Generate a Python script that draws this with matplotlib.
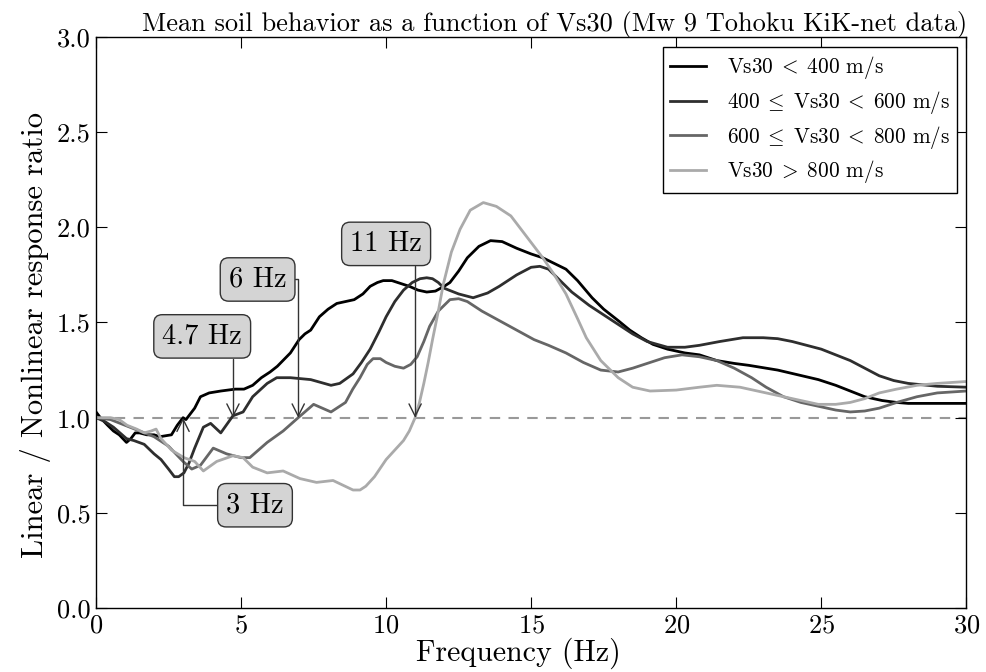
import matplotlib
matplotlib.use("Agg")
import matplotlib.pyplot as plt

plt.rcParams.update({
    "font.family": "serif",
    "font.serif": ["cmr10"],
    "mathtext.fontset": "cm",
    "axes.formatter.use_mathtext": True,
    "axes.unicode_minus": False,
})

# Vs30 < 400 m/s
freq_a = [0, 0.15, 0.4, 0.6, 0.8, 1.05, 1.2, 1.35, 1.5, 1.75, 2.0, 2.2, 2.6, 2.8, 3.0, 3.1,
          3.4, 3.6, 3.9, 4.3, 4.8, 5.1, 5.4, 5.7, 6.0, 6.25, 6.7, 7.0, 7.2, 7.4, 7.7, 8.0,
          8.3, 8.6, 8.9, 9.2, 9.45, 9.7, 9.9, 10.2, 10.5, 10.8, 11.1, 11.4, 11.7, 12.0, 12.2,
          12.5, 12.8, 13.2, 13.6, 14.0, 14.5, 15.0, 15.4, 15.8, 16.2, 16.6, 17.1, 17.5, 18.0,
          18.4, 18.8, 19.2, 19.7, 20.3, 20.8, 21.4, 22.0, 22.5, 23.1, 23.5, 24.2, 24.9, 25.5,
          26.0, 26.5, 27.1, 27.6, 28.0, 29.0, 30.0]
ratio_a = [1.03, 1.0, 0.96, 0.93, 0.91, 0.87, 0.89, 0.92, 0.92, 0.91, 0.91, 0.90, 0.91, 0.96,
           1.0, 0.99, 1.05, 1.11, 1.13, 1.14, 1.15, 1.15, 1.17, 1.21, 1.24, 1.27, 1.34, 1.41,
           1.44, 1.46, 1.53, 1.57, 1.60, 1.61, 1.62, 1.65, 1.69, 1.71, 1.72, 1.72, 1.705, 1.69,
           1.67, 1.66, 1.665, 1.69, 1.71, 1.77, 1.84, 1.90, 1.93, 1.925, 1.89, 1.86, 1.84, 1.81,
           1.78, 1.72, 1.63, 1.57, 1.51, 1.46, 1.42, 1.385, 1.36, 1.34, 1.33, 1.30, 1.285,
           1.275, 1.26, 1.25, 1.225, 1.20, 1.17, 1.14, 1.11, 1.09, 1.08, 1.075, 1.075, 1.075]

# 400 <= Vs30 < 600 m/s
freq_b = [0, 0.3, 0.6, 1.05, 1.3, 1.66, 2.0, 2.24, 2.5, 2.7, 2.85, 3.03, 3.2, 3.4, 3.7, 3.95,
          4.3, 4.72, 5.07, 5.4, 5.9, 6.23, 6.7, 7.4, 8.1, 8.4, 8.86, 9.15, 9.45, 9.75, 10.0,
          10.3, 10.6, 10.9, 11.17, 11.4, 11.6, 11.8, 12.0, 12.5, 13.0, 13.5, 13.9, 14.5, 15.0,
          15.3, 15.6, 16.0, 16.4, 17.0, 17.4, 18.0, 18.5, 19.0, 19.7, 20.3, 20.8, 21.5, 22.3,
          23.0, 23.5, 24.0, 24.5, 25.0, 25.5, 26.0, 26.5, 27.0, 27.5, 28.0, 29.0, 30.0]
ratio_b = [1.0, 0.98, 0.95, 0.89, 0.88, 0.86, 0.81, 0.78, 0.73, 0.69, 0.69, 0.71, 0.76, 0.84,
           0.95, 0.97, 0.92, 1.01, 1.03, 1.11, 1.18, 1.21, 1.21, 1.20, 1.17, 1.18, 1.23, 1.29,
           1.36, 1.45, 1.53, 1.61, 1.67, 1.71, 1.73, 1.735, 1.73, 1.71, 1.68, 1.65, 1.63, 1.655,
           1.69, 1.75, 1.79, 1.795, 1.78, 1.72, 1.66, 1.59, 1.55, 1.49, 1.44, 1.40, 1.37, 1.37,
           1.38, 1.40, 1.42, 1.42, 1.415, 1.40, 1.38, 1.36, 1.33, 1.30, 1.26, 1.22, 1.195,
           1.18, 1.165, 1.16]

# 600 <= Vs30 < 800 m/s
freq_c = [0, 0.5, 1.0, 1.5, 2.0, 2.5, 3.0, 3.3, 3.6, 4.04, 4.5, 5.0, 5.3, 5.9, 6.45, 6.97,
          7.5, 8.1, 8.6, 8.85, 9.1, 9.35, 9.55, 9.8, 10.0, 10.3, 10.6, 10.85, 11.07, 11.3,
          11.5, 11.8, 12.2, 12.5, 12.8, 13.3, 13.9, 14.5, 15.1, 15.6, 16.2, 16.8, 17.4, 18.0,
          18.5, 19.1, 19.6, 20.2, 20.8, 21.4, 22.0, 22.6, 23.1, 23.7, 24.3, 24.9, 25.5, 26.0,
          26.5, 27.0, 27.6, 28.3, 29.0, 30.0]
ratio_c = [1.0, 0.99, 0.96, 0.93, 0.90, 0.85, 0.77, 0.73, 0.75, 0.84, 0.81, 0.79, 0.79, 0.87,
           0.93, 1.0, 1.07, 1.03, 1.08, 1.15, 1.21, 1.28, 1.31, 1.31, 1.29, 1.27, 1.26, 1.28,
           1.32, 1.40, 1.48, 1.56, 1.62, 1.625, 1.61, 1.56, 1.51, 1.46, 1.41, 1.38, 1.34, 1.29,
           1.25, 1.24, 1.26, 1.29, 1.315, 1.33, 1.32, 1.30, 1.26, 1.21, 1.16, 1.11, 1.08, 1.06,
           1.04, 1.03, 1.035, 1.05, 1.08, 1.11, 1.13, 1.14]

# Vs30 > 800 m/s
freq_d = [0, 0.5, 0.8, 1.07, 1.4, 1.66, 1.9, 2.07, 2.24, 2.6, 3.03, 3.4, 3.7, 4.16, 4.72,
          5.07, 5.4, 5.9, 6.45, 7.03, 7.6, 8.17, 8.86, 9.1, 9.3, 9.6, 10.0, 10.3, 10.6, 10.8,
          11.0, 11.15, 11.3, 11.45, 11.6, 11.8, 11.97, 12.25, 12.55, 12.9, 13.35, 13.8, 14.3,
          14.8, 15.4, 15.8, 16.2, 16.6, 16.9, 17.4, 18.0, 18.5, 19.1, 20.0, 20.8, 21.4, 22.2,
          23.1, 24.0, 24.9, 25.5, 26.0, 26.5, 27.0, 27.6, 28.3, 29.0, 30.0]
ratio_d = [1.0, 1.0, 0.99, 0.96, 0.94, 0.92, 0.93, 0.94, 0.89, 0.83, 0.79, 0.77, 0.72, 0.77,
           0.80, 0.79, 0.74, 0.71, 0.72, 0.68, 0.66, 0.67, 0.62, 0.62, 0.64, 0.69, 0.78, 0.83,
           0.88, 0.93, 1.0, 1.08, 1.18, 1.29, 1.41, 1.56, 1.70, 1.87, 1.99, 2.09, 2.13, 2.11,
           2.06, 1.96, 1.84, 1.75, 1.65, 1.52, 1.42, 1.30, 1.21, 1.16, 1.14, 1.145, 1.16, 1.17,
           1.16, 1.13, 1.10, 1.07, 1.07, 1.08, 1.10, 1.13, 1.15, 1.17, 1.18, 1.19]

labels = [r"Vs30$\;<\;$400 m/s",
          r"400$\;\leq\;$Vs30$\;<\;$600 m/s",
          r"600$\;\leq\;$Vs30$\;<\;$800 m/s",
          r"Vs30$\;>\;$800 m/s"]
colors = ["#000000", "#2e2e2e", "#666666", "#aaaaaa"]

# Annotated transition frequencies: (label, arrow x, arrow y, text x, text y)
marks = [("3 Hz", 3.0, 1.0, 5.48, 0.54),
         ("4.7 Hz", 4.72, 1.0, 3.66, 1.427),
         ("6 Hz", 6.97, 1.0, 5.57, 1.726),
         ("11 Hz", 11.0, 1.0, 10.0, 1.913)]

fig = plt.figure(figsize=(9.86, 6.72), dpi=100)
ax = fig.add_axes([0.0974, 0.0952, 0.8826, 0.8498])

series = [(freq_a, ratio_a), (freq_b, ratio_b), (freq_c, ratio_c), (freq_d, ratio_d)]
for (f, r), lab, col in zip(series, labels, colors):
    ax.plot(f, r, color=col, lw=2.0, label=lab, solid_joinstyle="round")

ax.axhline(1.0, color="#999999", lw=1.5, ls=(0, (5, 4)), zorder=1)

for text, xa, ya, xt, yt in marks:
    ax.annotate(text, xy=(xa, ya), xytext=(xt, yt), ha="center", va="center",
                fontsize=20.5, zorder=5,
                bbox=dict(boxstyle="round,pad=0.3", fc="#d4d4d4", ec="#333333", lw=1.0),
                arrowprops=dict(arrowstyle="->", color="#333333", lw=1.0,
                                connectionstyle="angle,angleA=0,angleB=90,rad=0",
                                mutation_scale=22, shrinkA=0, shrinkB=0))

ax.set_xlim(0, 30)
ax.set_ylim(0, 3.0)
ax.set_xticks([0, 5, 10, 15, 20, 25, 30])
ax.set_yticks([0.0, 0.5, 1.0, 1.5, 2.0, 2.5, 3.0])
ax.set_yticklabels(["0.0", "0.5", "1.0", "1.5", "2.0", "2.5", "3.0"])
ax.tick_params(direction="in", length=8, width=0.8, labelsize=19, top=True, right=True,
               pad=4)
for s in ax.spines.values():
    s.set_linewidth(1.0)

ax.set_xlabel("Frequency (Hz)", fontsize=21.5, labelpad=0, x=0.485)
ax.set_ylabel("Linear / Nonlinear response ratio", fontsize=22, labelpad=4, y=0.478)
ax.set_title("Mean soil behavior as a function of Vs30 (Mw 9 Tohoku KiK-net data)",
             fontsize=19, pad=4, x=0.527)

leg = ax.legend(loc="upper right", fontsize=15.3, fancybox=False, framealpha=1,
                edgecolor="black", handlelength=1.65, handletextpad=1.0, borderpad=0.35,
                labelspacing=0.36, borderaxespad=0, bbox_to_anchor=(0.9897, 0.9825))
leg.get_frame().set_linewidth(1.0)

fig.savefig("out.png", dpi=100)
